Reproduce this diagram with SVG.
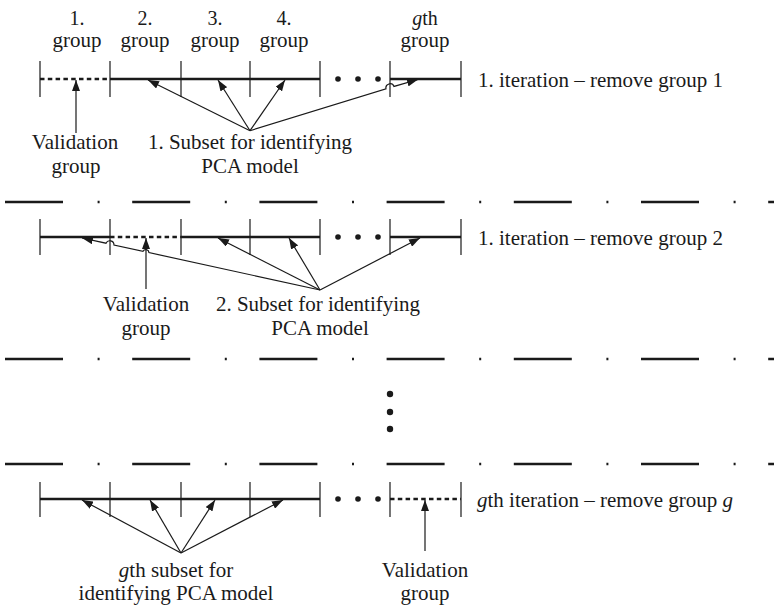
<svg xmlns="http://www.w3.org/2000/svg" width="774" height="609" viewBox="0 0 774 609" font-family="'Liberation Serif', 'DejaVu Serif', 'Times New Roman', serif">
<defs>
<style>
text{font-family:"Liberation Serif","DejaVu Serif","Times New Roman",serif;font-size:21px;fill:#1a1a1a}
.m{text-anchor:middle}
.h{font-size:20px}
.bar{stroke:#1a1a1a;stroke-width:2.6;fill:none}
.dash{stroke:#1a1a1a;stroke-width:2.6;fill:none;stroke-dasharray:4.5 3.3}
.tick{stroke:#1a1a1a;stroke-width:1.2}
.sep{stroke:#1a1a1a;stroke-width:2.6;stroke-dasharray:58 34.6 2 32.6}
.arr{stroke:#1a1a1a;stroke-width:1.2;fill:none;marker-end:url(#ah)}
.dot{fill:#1a1a1a}
</style>
<marker id="ah" markerWidth="11" markerHeight="8" refX="11" refY="4" orient="auto" markerUnits="userSpaceOnUse">
<path d="M0,0 L11,4 L0,8 z" fill="#1a1a1a"/>
</marker>
</defs>

<g id="separators">
<line class="sep" x1="5" y1="202" x2="774" y2="202"/>
<line class="sep" x1="5" y1="359" x2="774" y2="359"/>
<line class="sep" x1="5" y1="464" x2="774" y2="464"/>
</g>

<g id="headers">
<text class="m h" x="77" y="25">1.</text><text class="m" x="77" y="47">group</text>
<text class="m h" x="145" y="25">2.</text><text class="m" x="145" y="47">group</text>
<text class="m h" x="215" y="25">3.</text><text class="m" x="215" y="47">group</text>
<text class="m h" x="284" y="25">4.</text><text class="m" x="284" y="47">group</text>
<text class="m h" x="425" y="25"><tspan font-style="italic">g</tspan>th</text><text class="m" x="425" y="47">group</text>
</g>

<g id="row1">
<line class="dash" x1="40" y1="79" x2="110" y2="79"/>
<line class="bar" x1="110" y1="79" x2="320" y2="79"/>
<line class="bar" x1="390" y1="79" x2="461" y2="79"/>
<line class="tick" x1="40" y1="61" x2="40" y2="97"/>
<line class="tick" x1="110" y1="61" x2="110" y2="97"/>
<line class="tick" x1="181" y1="61" x2="181" y2="97"/>
<line class="tick" x1="250" y1="61" x2="250" y2="97"/>
<line class="tick" x1="320" y1="61" x2="320" y2="97"/>
<line class="tick" x1="390" y1="61" x2="390" y2="97"/>
<line class="tick" x1="461" y1="61" x2="461" y2="97"/>
<circle class="dot" cx="338" cy="79" r="2.8"/><circle class="dot" cx="358" cy="79" r="2.8"/><circle class="dot" cx="378" cy="79" r="2.8"/>
<text x="478" y="87">1. iteration – remove group 1</text>
<text class="m" x="75" y="149">Validation</text><text class="m" x="76" y="173">group</text>
<text class="m" x="250" y="149">1. Subset for identifying</text><text class="m" x="250" y="173">PCA model</text>
</g>

<g id="row2">
<line class="bar" x1="40" y1="237" x2="110" y2="237"/>
<line class="dash" x1="110" y1="237" x2="181" y2="237"/>
<line class="bar" x1="181" y1="237" x2="320" y2="237"/>
<line class="bar" x1="390" y1="237" x2="461" y2="237"/>
<line class="tick" x1="40" y1="219" x2="40" y2="255"/>
<line class="tick" x1="110" y1="219" x2="110" y2="255"/>
<line class="tick" x1="181" y1="219" x2="181" y2="255"/>
<line class="tick" x1="250" y1="219" x2="250" y2="255"/>
<line class="tick" x1="320" y1="219" x2="320" y2="255"/>
<line class="tick" x1="390" y1="219" x2="390" y2="255"/>
<line class="tick" x1="461" y1="219" x2="461" y2="255"/>
<circle class="dot" cx="338" cy="237" r="2.8"/><circle class="dot" cx="358" cy="237" r="2.8"/><circle class="dot" cx="378" cy="237" r="2.8"/>
<text x="478" y="245">1. iteration – remove group 2</text>
<text class="m" x="146" y="311">Validation</text><text class="m" x="146" y="335">group</text>
<text class="m" x="318" y="311">2. Subset for identifying</text><text class="m" x="320" y="335">PCA model</text>
</g>

<g id="vdots">
<circle class="dot" cx="390" cy="394" r="3.2"/>
<circle class="dot" cx="390" cy="412" r="3.2"/>
<circle class="dot" cx="390" cy="429" r="3.2"/>
</g>

<g id="row3">
<line class="bar" x1="40" y1="499" x2="320" y2="499"/>
<line class="dash" x1="390" y1="499" x2="461" y2="499"/>
<line class="tick" x1="40" y1="482" x2="40" y2="517"/>
<line class="tick" x1="110" y1="482" x2="110" y2="517"/>
<line class="tick" x1="181" y1="482" x2="181" y2="517"/>
<line class="tick" x1="250" y1="482" x2="250" y2="517"/>
<line class="tick" x1="320" y1="482" x2="320" y2="517"/>
<line class="tick" x1="390" y1="482" x2="390" y2="517"/>
<line class="tick" x1="461" y1="482" x2="461" y2="517"/>
<circle class="dot" cx="338" cy="499" r="2.8"/><circle class="dot" cx="358" cy="499" r="2.8"/><circle class="dot" cx="378" cy="499" r="2.8"/>
<text x="477" y="507"><tspan font-style="italic">g</tspan>th iteration – remove group <tspan font-style="italic">g</tspan></text>
<text class="m" x="176" y="577"><tspan font-style="italic">g</tspan>th subset for</text><text class="m" x="176" y="600">identifying PCA model</text>
<text class="m" x="425" y="577">Validation</text><text class="m" x="425" y="600">group</text>
</g>

<g id="connectors">
<line class="arr" x1="76" y1="133" x2="76" y2="80"/>
<line class="arr" x1="250" y1="130.7" x2="148" y2="80"/>
<line class="arr" x1="250" y1="130.7" x2="218" y2="80"/>
<line class="arr" x1="250" y1="130.7" x2="285" y2="80"/>
<path class="arr" d="M250,130.7 L386,88.85 A4.2,4.2 0 0 1 394,86.4 L418,79.5"/>

<line class="arr" x1="146" y1="289" x2="146" y2="238"/>
<path class="arr" d="M320,290 L149,252.6 A3.2,3.2 0 0 0 143,251.3 L114,245 A4.2,4.2 0 0 0 106,243.2 L82,238"/>
<line class="arr" x1="320" y1="290" x2="218" y2="238"/>
<line class="arr" x1="320" y1="290" x2="289" y2="238"/>
<line class="arr" x1="320" y1="290" x2="420" y2="238"/>

<line class="arr" x1="181" y1="553" x2="82" y2="500"/>
<line class="arr" x1="181" y1="553" x2="150" y2="500"/>
<line class="arr" x1="181" y1="553" x2="215" y2="500"/>
<line class="arr" x1="181" y1="553" x2="283" y2="500"/>
<line class="arr" x1="425" y1="551" x2="425" y2="500"/>
</g>
</svg>
